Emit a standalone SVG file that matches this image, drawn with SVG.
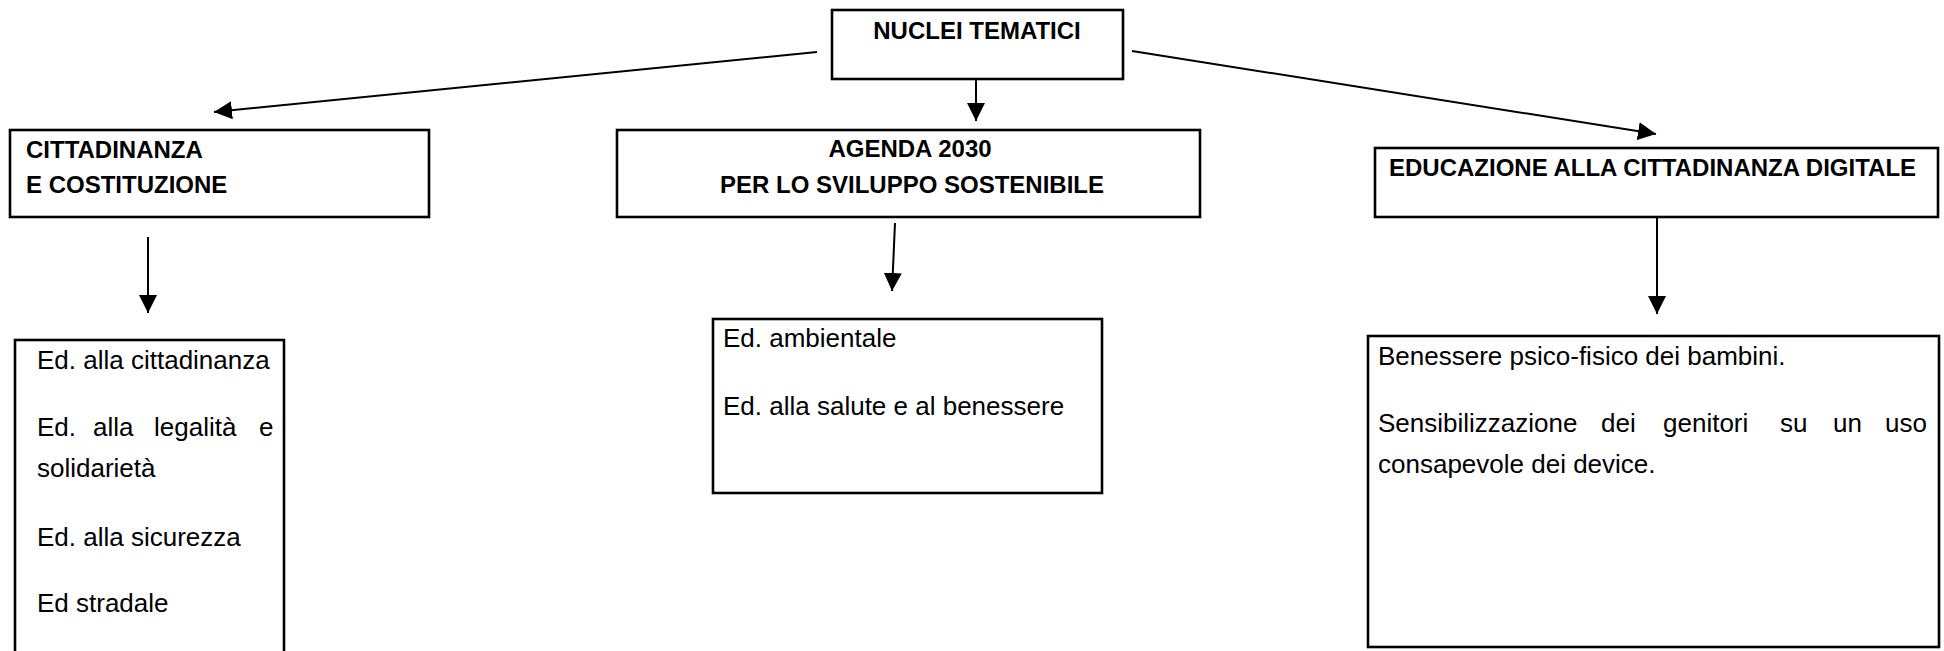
<svg xmlns="http://www.w3.org/2000/svg" width="1944" height="651" viewBox="0 0 1944 651">
<style>
.box{fill:#fff;stroke:#000;stroke-width:2.6}
.hd{font-family:"Liberation Sans",Arial,sans-serif;font-weight:bold;font-size:24px;fill:#000}
.tx{font-family:"Liberation Sans",Arial,sans-serif;font-size:26px;fill:#000}
.ln{stroke:#000;stroke-width:2;fill:none;marker-end:url(#ah)}
</style>
<defs>
<marker id="ah" markerUnits="userSpaceOnUse" markerWidth="18" markerHeight="18" viewBox="0 0 16 16" refX="16" refY="8" orient="auto">
<path d="M0,0 L16,8 L0,16 Z" fill="#000"/>
</marker>
</defs>
<rect width="1944" height="651" fill="#fff"/>
<g id="connectors">
<line class="ln" x1="817" y1="52" x2="214" y2="112"/>
<line class="ln" x1="976" y1="77" x2="976" y2="121"/>
<line class="ln" x1="1132" y1="51" x2="1656" y2="134"/>
<line class="ln" x1="148" y1="237" x2="148" y2="313"/>
<line class="ln" x1="895" y1="223" x2="892" y2="291"/>
<line class="ln" x1="1657" y1="217" x2="1657" y2="314"/>
</g>
<g id="nuclei">
<rect class="box" x="832" y="10" width="291" height="69"/>
<text class="hd" x="977" y="39" text-anchor="middle">NUCLEI TEMATICI</text>
</g>
<g id="cittadinanza">
<rect class="box" x="10" y="130" width="419" height="87"/>
<text class="hd" x="26" y="158">CITTADINANZA</text>
<text class="hd" x="26" y="193">E COSTITUZIONE</text>
</g>
<g id="agenda">
<rect class="box" x="617" y="130" width="583" height="87"/>
<text class="hd" x="910" y="157" text-anchor="middle">AGENDA 2030</text>
<text class="hd" x="912" y="193" text-anchor="middle">PER LO SVILUPPO SOSTENIBILE</text>
</g>
<g id="digitale">
<rect class="box" x="1375" y="148" width="563" height="69"/>
<text class="hd" x="1389" y="176">EDUCAZIONE ALLA CITTADINANZA DIGITALE</text>
</g>
<g id="cittadinanza-temi">
<rect class="box" x="15" y="340" width="269" height="330"/>
<text class="tx" x="37" y="369">Ed. alla cittadinanza</text>
<text class="tx" y="436"><tspan x="37">Ed.</tspan><tspan x="93">alla</tspan><tspan x="154">legalità</tspan><tspan x="259">e</tspan></text>
<text class="tx" x="37" y="477">solidarietà</text>
<text class="tx" x="37" y="546">Ed. alla sicurezza</text>
<text class="tx" x="37" y="612">Ed stradale</text>
</g>
<g id="agenda-temi">
<rect class="box" x="713" y="319" width="389" height="174"/>
<text class="tx" x="723" y="347">Ed. ambientale</text>
<text class="tx" x="723" y="415">Ed. alla salute e al benessere</text>
</g>
<g id="digitale-temi">
<rect class="box" x="1368" y="336" width="571" height="311"/>
<text class="tx" x="1378" y="365">Benessere psico-fisico dei bambini.</text>
<text class="tx" y="432"><tspan x="1378">Sensibilizzazione</tspan><tspan x="1601">dei</tspan><tspan x="1663">genitori</tspan><tspan x="1780">su</tspan><tspan x="1833">un</tspan><tspan x="1885">uso</tspan></text>
<text class="tx" x="1378" y="473">consapevole dei device.</text>
</g>
</svg>
